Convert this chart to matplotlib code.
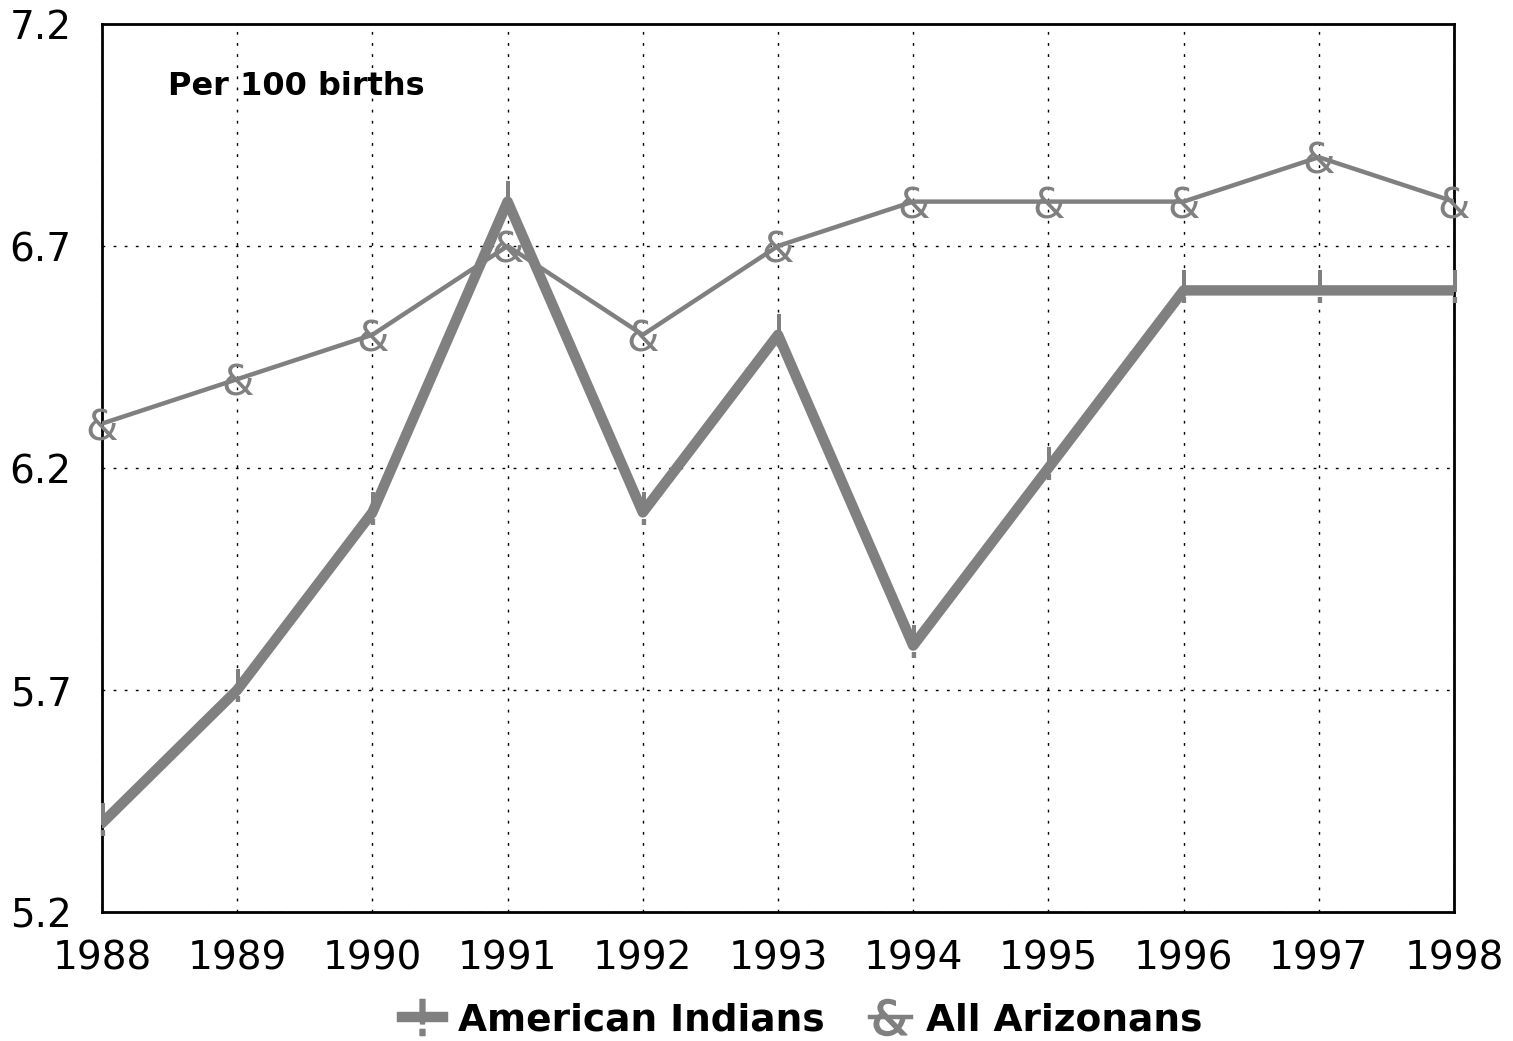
import numpy as np
import matplotlib.pyplot as plt
from matplotlib.lines import Line2D

years = [1988, 1989, 1990, 1991, 1992, 1993, 1994, 1995, 1996, 1997, 1998]
american_indians = [5.4, 5.7, 6.1, 6.8, 6.1, 6.5, 5.8, 6.2, 6.6, 6.6, 6.6]
all_arizonans = [6.3, 6.4, 6.5, 6.7, 6.5, 6.7, 6.8, 6.8, 6.8, 6.9, 6.8]
yticks = [5.2, 5.7, 6.2, 6.7, 7.2]

gray = '#808080'

fig = plt.figure(figsize=(15.13, 10.41), dpi=100)
ax = fig.add_axes([102/1513, 1 - 912/1041, (1454 - 102)/1513, (912 - 24)/1041])

ax.plot(years, all_arizonans, color=gray, lw=3.2, solid_capstyle='round', zorder=3)
ax.plot(years, american_indians, color=gray, lw=7.5, solid_capstyle='round', zorder=4)

# text markers like the original
for x, y in zip(years, all_arizonans):
    ax.text(x, y - 0.01, '&', color=gray, fontsize=30, ha='center', va='center', zorder=5)
for x, y in zip(years, american_indians):
    ax.text(x, y, '!', color=gray, fontsize=32, ha='center', va='center', zorder=5)

ax.set_xlim(1988, 1998)
ax.set_ylim(5.2, 7.2)
ax.set_xticks(years)
ax.set_yticks(yticks)
ax.set_yticklabels(['5.2', '5.7', '6.2', '6.7', '7.2'])
ax.tick_params(axis='x', length=0, labelsize=28, pad=20)
ax.tick_params(axis='y', length=0, labelsize=28, pad=22)
ax.grid(True, color='black', linestyle=(0, (2, 6)), lw=1)
for s in ax.spines.values():
    s.set_linewidth(2)

ax.text(0.049, 0.93, 'Per 100 births', transform=ax.transAxes, fontsize=23,
        fontweight='bold', va='center', ha='left')

handles = [
    Line2D([], [], color=gray, lw=7.5, marker='$!$', markersize=26,
           markeredgecolor=gray, markerfacecolor=gray),
    Line2D([], [], color=gray, lw=3.2, marker='$&$', markersize=26,
           markeredgecolor=gray, markerfacecolor=gray),
]
fig.legend(handles, ['American Indians', 'All Arizonans'], loc='center',
           bbox_to_anchor=(0.53, 0.02), ncol=2, frameon=False,
           prop={'size': 27, 'weight': 'bold'}, handlelength=1.1,
           columnspacing=1.2, handletextpad=0.4)

fig.savefig('out.png', dpi=100)
